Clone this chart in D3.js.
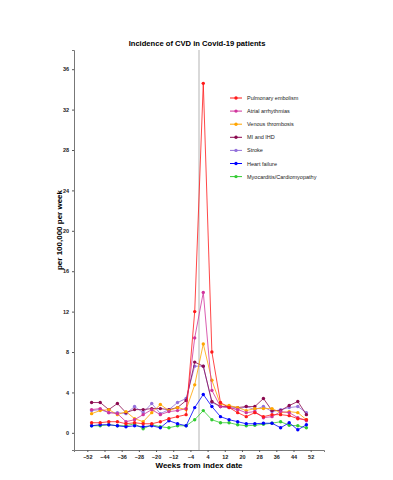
<!DOCTYPE html>
<html lang="en">
<head>
<meta charset="utf-8">
<title>Incidence of CVD</title>
<script src="https://cdn.jsdelivr.net/npm/d3@7"></script>
<style>
  body { margin: 0; background: #fff; }
  text { font-family: "Liberation Sans", Arial, sans-serif; }
</style>
</head>
<body>
<script>
// weeks relative to index date (4-week bins)
var weeks = [-50,-46,-42,-38,-34,-30,-26,-22,-18,-14,-10,-6,-2,2,6,10,14,18,22,26,30,34,38,42,46,50];
var xTicks = [-52,-44,-36,-28,-20,-12,-4,4,12,20,28,36,44,52];
var yTicks = [0,4,8,12,16,20,24,28,32,36];

var names = ["Pulmonary embolism","Atrial arrhythmias","Venous thrombosis","MI and IHD","Stroke","Heart failure","Myocarditis/Cardiomyopathy"];
var colors = ["#ff1a1a","#d1349c","#ffa500","#8b0a50","#9370db","#0000ff","#33cc33"];

var pe     = [1.0,1.0,1.1,1.1,0.9,1.0,0.9,0.9,1.1,1.4,1.6,1.8,12.0,34.6,8.0,3.0,2.5,2.0,1.6,2.0,1.6,1.8,1.8,1.7,1.4,1.3];
var af     = [2.3,2.4,2.0,1.9,1.1,1.3,1.8,2.3,1.8,2.1,2.2,2.4,9.4,13.9,4.2,2.6,2.5,2.3,2.0,2.1,1.5,1.6,2.1,2.0,1.5,1.2];
var vt     = [1.9,2.2,2.3,1.8,2.1,1.4,1.1,2.0,2.8,2.2,2.5,2.3,4.75,8.8,5.2,2.8,2.7,2.5,2.2,2.4,2.4,2.4,2.0,2.1,2.0,1.3];
var mi     = [3.0,3.0,2.3,2.9,2.0,2.3,2.3,2.4,2.4,2.3,2.5,3.2,7.0,6.6,3.1,2.6,2.6,2.5,2.6,2.6,3.4,2.2,2.2,2.7,3.1,1.8];
var stroke = [2.2,2.3,2.0,2.0,1.9,2.6,2.0,2.9,1.9,2.3,3.0,3.4,6.6,6.6,3.0,2.6,2.5,2.3,2.6,2.3,2.6,2.1,2.3,2.5,2.6,2.0];
var hf     = [0.7,0.8,0.8,0.7,0.6,0.7,0.6,0.7,0.5,1.2,0.9,0.7,2.5,3.8,2.6,1.6,1.3,1.1,0.9,0.9,0.95,0.95,0.5,1.0,0.3,0.8];
var myo    = [0.7,0.7,0.8,0.7,0.7,0.9,0.4,0.8,0.6,0.5,0.7,0.7,1.3,2.2,1.3,1.0,1.0,0.8,0.7,0.75,0.85,0.95,1.1,0.75,0.7,0.5];

var seriesValues = [pe, af, vt, mi, stroke, hf, myo];

var w = 393, h = 480;
var svg = d3.select('body').append('svg').attr('width', w).attr('height', h);

var x = d3.scaleLinear().domain([-58.2, 58.2]).range([74, 324]);
var y = d3.scaleLinear().domain([-1.7, 37.9]).range([450, 50]);

// reference line at index date
svg.append('line')
  .attr('x1', x(0)).attr('x2', x(0))
  .attr('y1', y.range()[1]).attr('y2', y.range()[0])
  .attr('stroke', '#cccccc').attr('stroke-width', 1.5);

var xAxis = d3.axisBottom(x).tickValues(xTicks).tickSize(2).tickPadding(3);
var yAxis = d3.axisLeft(y).tickValues(yTicks).tickSize(2).tickPadding(3);

var gx = svg.append('g').attr('transform', 'translate(0,' + y.range()[0] + ')').call(xAxis);
var gy = svg.append('g').attr('transform', 'translate(' + x.range()[0] + ',0)').call(yAxis);

[gx, gy].forEach(function(g) {
  g.select('.domain').attr('stroke', '#777').attr('stroke-width', 1);
  g.selectAll('.tick line').attr('stroke', '#555');
  g.selectAll('.tick text').attr('fill', '#222').attr('font-size', 5.5).attr('font-weight', 'bold')
    .style('font-family', '"Liberation Sans", Arial, sans-serif');
});

var line = d3.line()
  .x(function(d, i) { return x(weeks[i]); })
  .y(function(d) { return y(d); });

// draw from last to first so pulmonary embolism stays on top
for (var s = seriesValues.length - 1; s >= 0; s--) {
  var g = svg.append('g');
  g.append('path')
    .datum(seriesValues[s])
    .attr('d', line)
    .attr('fill', 'none')
    .attr('stroke', colors[s])
    .attr('stroke-width', 1)
    .attr('stroke-opacity', 0.8);
  g.selectAll('circle')
    .data(seriesValues[s])
    .enter().append('circle')
    .attr('cx', function(d, i) { return x(weeks[i]); })
    .attr('cy', function(d) { return y(d); })
    .attr('r', 1.7)
    .attr('fill', colors[s]);
}

// legend
var legend = svg.append('g').attr('transform', 'translate(230,98)');
names.forEach(function(n, i) {
  var row = legend.append('g').attr('transform', 'translate(0,' + (i * 13.1) + ')');
  row.append('line').attr('x1', 0).attr('x2', 12).attr('y1', 0).attr('y2', 0)
    .attr('stroke', colors[i]).attr('stroke-width', 1);
  row.append('circle').attr('cx', 6).attr('cy', 0).attr('r', 1.7).attr('fill', colors[i]);
  row.append('text').attr('x', 17).attr('y', 2).attr('font-size', 5.5).attr('fill', '#222').text(n);
});

// title and axis titles
svg.append('text')
  .attr('x', 197).attr('y', 46)
  .attr('text-anchor', 'middle').attr('font-size', 7.6).attr('font-weight', 'bold')
  .text('Incidence of CVD in Covid-19 patients');

svg.append('text')
  .attr('x', 199).attr('y', 468)
  .attr('text-anchor', 'middle').attr('font-size', 8).attr('font-weight', 'bold')
  .text('Weeks from index date');

svg.append('text')
  .attr('transform', 'translate(62,230) rotate(-90)')
  .attr('text-anchor', 'middle').attr('font-size', 8).attr('font-weight', 'bold')
  .text('per 100,000 per week');
</script>
</body>
</html>
